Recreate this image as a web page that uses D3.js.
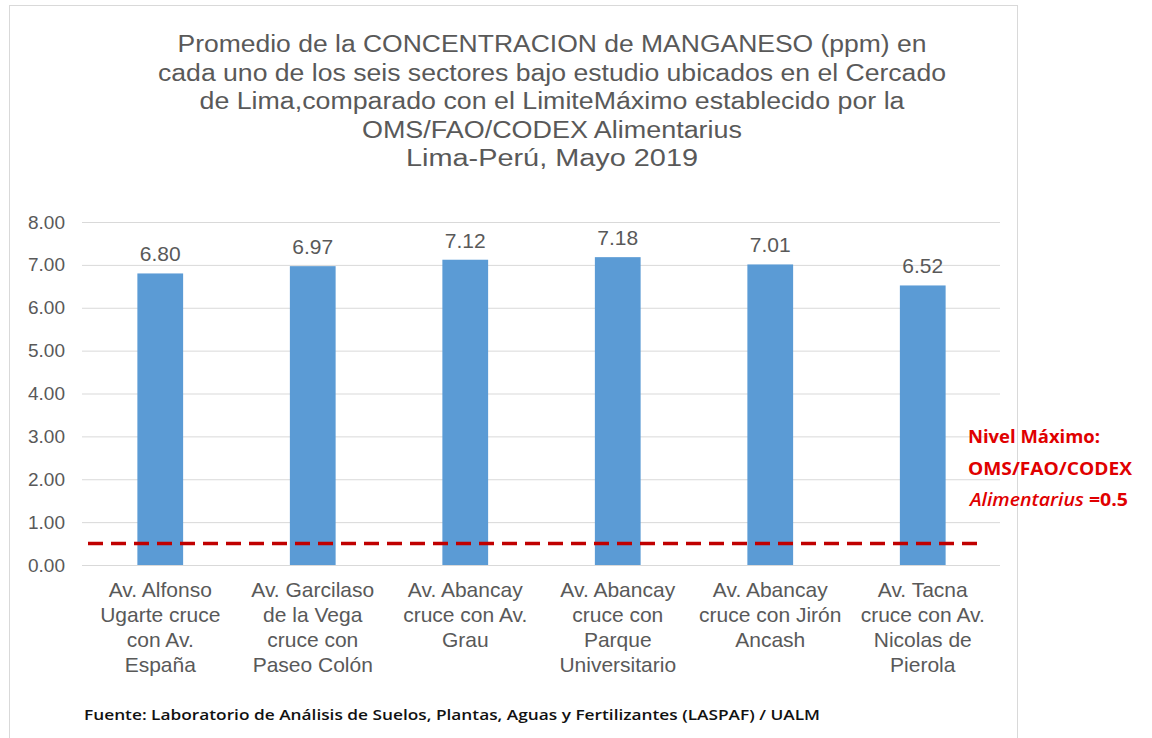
<!DOCTYPE html>
<html lang="es">
<head>
  <meta charset="UTF-8">
  <title>Manganeso - Cercado de Lima</title>
  <script src="https://d3js.org/d3.v7.min.js"></script>
  <style>
    body { margin: 0; background: #fff; }
    .grid line { stroke: #d9d9d9; stroke-width: 1; }
    .grid text { fill: #595959; font-size: 19px; font-family: "Liberation Sans", Arial, sans-serif; }
  </style>
</head>
<body>
  <svg id="chart" width="1152" height="738"></svg>

  <script>
    // Data
    const titleLines = [
      "Promedio de la CONCENTRACION de MANGANESO (ppm) en",
      "cada uno de los seis sectores bajo estudio ubicados en el Cercado",
      "de Lima,comparado con el LimiteMáximo establecido por la",
      "OMS/FAO/CODEX Alimentarius",
      "Lima-Perú, Mayo 2019"
    ];
    const titleWidths = [749, 788, 705, 380, 292];

    const categories = [
      ["Av. Alfonso", "Ugarte cruce", "con Av.", "España"],
      ["Av. Garcilaso", "de la Vega", "cruce con", "Paseo Colón"],
      ["Av. Abancay", "cruce con Av.", "Grau"],
      ["Av. Abancay", "cruce con", "Parque", "Universitario"],
      ["Av. Abancay", "cruce con Jirón", "Ancash"],
      ["Av. Tacna", "cruce con Av.", "Nicolas de", "Pierola"]
    ];
    const values = [6.80, 6.97, 7.12, 7.18, 7.01, 6.52];
    const yTicks = [0, 1, 2, 3, 4, 5, 6, 7, 8];
    const limitValue = 0.5;

    const noteLines = ["Nivel Máximo:", "OMS/FAO/CODEX"];
    const sourceText = "Fuente: Laboratorio de Análisis de Suelos, Plantas, Aguas y Fertilizantes (LASPAF) / UALM";

    const font = '"Liberation Sans", Arial, sans-serif';
    const grey = "#595959";

    const svg = d3.select("#chart");

    // chart frame
    svg.append("rect")
      .attr("x", 9.5).attr("y", 5.5)
      .attr("width", 1008).attr("height", 760)
      .attr("fill", "#fff")
      .attr("stroke", "#d9d9d9");

    // scales
    const x = d3.scaleBand()
      .domain(d3.range(values.length))
      .range([84, 999])
      .paddingInner(0.7)
      .paddingOuter(0.35);

    const y = d3.scaleLinear()
      .domain([0, 8])
      .range([565, 222]);

    // gridlines + y labels
    const gridLeft = 82, gridRight = 1000;
    svg.append("g")
      .attr("class", "grid")
      .attr("transform", `translate(${gridLeft},0)`)
      .call(d3.axisLeft(y)
        .tickValues(yTicks)
        .tickFormat(d3.format(".2f"))
        .tickSize(-(gridRight - gridLeft))
        .tickPadding(17))
      .call(g => g.select(".domain").remove());

    // bars
    svg.selectAll("rect.bar")
      .data(values)
      .enter()
      .append("rect")
      .attr("class", "bar")
      .attr("x", (d, i) => x(i))
      .attr("y", d => y(d))
      .attr("width", x.bandwidth())
      .attr("height", d => y(0) - y(d))
      .attr("fill", "#5b9bd5");

    // data labels
    svg.selectAll("text.val")
      .data(values)
      .enter()
      .append("text")
      .attr("class", "val")
      .attr("x", (d, i) => x(i) + x.bandwidth() / 2)
      .attr("y", d => y(d) - 12)
      .attr("text-anchor", "middle")
      .style("font-family", font)
      .style("font-size", "21px")
      .style("fill", grey)
      .text(d => d.toFixed(2));

    // category labels
    const cat = svg.selectAll("text.cat")
      .data(categories)
      .enter()
      .append("text")
      .attr("class", "cat")
      .attr("text-anchor", "middle")
      .style("font-family", font)
      .style("font-size", "21px")
      .style("fill", grey);

    cat.selectAll("tspan")
      .data((d, i) => d.map(t => ({ t, i })))
      .enter()
      .append("tspan")
      .attr("x", d => x(d.i) + x.bandwidth() / 2)
      .attr("y", (d, j) => y(0) + 32 + j * 25)
      .text(d => d.t);

    // limit line
    svg.append("line")
      .attr("x1", x.range()[0] + 4)
      .attr("x2", x.range()[1] - 22)
      .attr("y1", y(limitValue))
      .attr("y2", y(limitValue))
      .attr("stroke", "#c00000")
      .attr("stroke-width", 3.5)
      .attr("stroke-dasharray", "15 8");

    // title
    svg.append("g")
      .selectAll("text")
      .data(titleLines)
      .enter()
      .append("text")
      .attr("x", 552)
      .attr("y", (d, i) => 52 + i * 28.5)
      .attr("text-anchor", "middle")
      .attr("textLength", (d, i) => titleWidths[i])
      .attr("lengthAdjust", "spacingAndGlyphs")
      .style("font-family", font)
      .style("font-size", "23px")
      .style("fill", grey)
      .text(d => d);

    // red note at right
    const note = svg.append("g")
      .style("font-family", '"Open Sans", "Noto Sans", sans-serif')
      .style("font-weight", "bold")
      .style("font-size", "18px")
      .style("fill", "#e00000");

    note.selectAll("text.nl")
      .data(noteLines)
      .enter()
      .append("text")
      .attr("class", "nl")
      .attr("x", 968)
      .attr("y", (d, i) => 443 + i * 32)
      .attr("textLength", (d, i) => [132, 164][i])
      .attr("lengthAdjust", "spacingAndGlyphs")
      .text(d => d);

    const last = note.append("text")
      .attr("x", 970)
      .attr("y", 506)
      .attr("textLength", 158)
      .attr("lengthAdjust", "spacingAndGlyphs");
    last.append("tspan")
      .style("font-style", "italic")
      .style("font-weight", "600")
      .text("Alimentarius");
    last.append("tspan").text(" =0.5");

    // source
    svg.append("text")
      .attr("x", 84)
      .attr("y", 720)
      .attr("textLength", 736)
      .attr("lengthAdjust", "spacingAndGlyphs")
      .style("font-family", '"Open Sans", "Noto Sans", sans-serif')
      .style("font-weight", "600")
      .style("font-size", "15px")
      .style("fill", "#111")
      .text(sourceText);
  </script>
</body>
</html>
